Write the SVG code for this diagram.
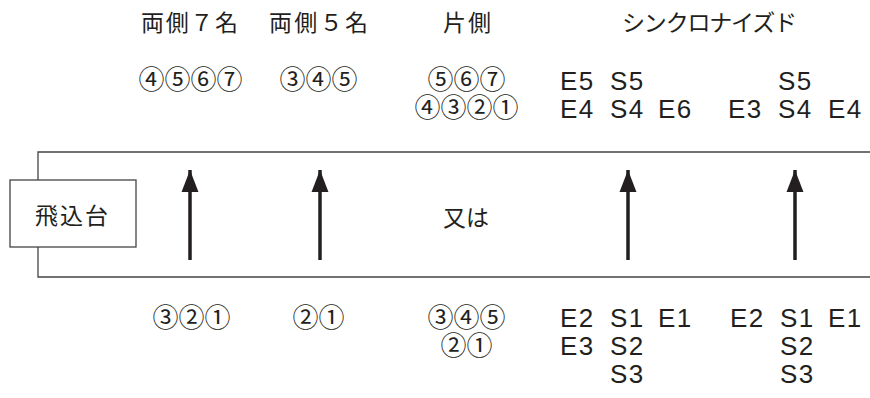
<svg xmlns="http://www.w3.org/2000/svg" width="870" height="398" viewBox="0 0 870 398">
<defs>
<marker id="ah" viewBox="0 0 13 10" refX="13" refY="5" markerWidth="6.3" markerHeight="4.9" markerUnits="strokeWidth" orient="auto">
<path d="M0,0 L13,5 L0,10 Z" fill="#231f20"/>
</marker>
<style>
.jp{font-family:"Noto Sans CJK JP","Noto Sans",sans-serif;fill:#231f20;font-size:23px}
.c{font-family:"Noto Sans CJK JP","DejaVu Sans",sans-serif;fill:#231f20;font-size:26px;text-anchor:middle}
.es{font-family:"Liberation Sans",Arial,sans-serif;fill:#231f20;font-size:26px;letter-spacing:1.5px}
.pool{fill:none;stroke:#444;stroke-width:1.3}
.arr{stroke:#231f20;stroke-width:3.5;fill:none;marker-end:url(#ah)}
</style>
</defs>
<rect width="870" height="398" fill="#fff"/>
<g id="pool">
<path class="pool" d="M870,152 H38 V180 M38,247 V277 H870"/>
</g>
<g id="platform">
<rect x="10" y="180" width="126" height="67" fill="#fff" stroke="#444" stroke-width="1.3"/>
<text class="jp" x="35" y="224" textLength="73">飛込台</text>
</g>
<g id="or"><text class="jp" x="443" y="226">又は</text></g>
<g id="connectors">
<line class="arr" x1="190" y1="260" x2="190" y2="170"/>
<line class="arr" x1="320" y1="260" x2="320" y2="170"/>
<line class="arr" x1="628" y1="260" x2="628" y2="170"/>
<line class="arr" x1="795" y1="260" x2="795" y2="170"/>
</g>
<g id="headers">
<text class="jp" x="141" y="31" textLength="97">両側７名</text>
<text class="jp" x="269" y="31" textLength="99">両側５名</text>
<text class="jp" x="443" y="31" textLength="48">片側</text>
<text class="jp" x="622" y="31" textLength="175">シンクロナイズド</text>
</g>
<g id="top-labels">
<text class="c" x="190.5" y="89">④⑤⑥⑦</text>
<text class="c" x="318.5" y="89">③④⑤</text>
<text class="c" x="466.5" y="89">⑤⑥⑦</text>
<text class="c" x="466.5" y="117">④③②①</text>
<text class="es" x="560" y="90">E5</text><text class="es" x="610" y="90">S5</text>
<text class="es" x="778" y="90">S5</text>
<text class="es" x="560" y="118">E4</text><text class="es" x="610" y="118">S4</text><text class="es" x="658" y="118">E6</text>
<text class="es" x="728" y="118">E3</text><text class="es" x="778" y="118">S4</text><text class="es" x="828" y="118">E4</text>
</g>
<g id="bottom-labels">
<text class="c" x="191.5" y="327">③②①</text>
<text class="c" x="318.5" y="327">②①</text>
<text class="c" x="466.5" y="327">③④⑤</text>
<text class="c" x="466.5" y="355">②①</text>
<text class="es" x="560" y="327">E2</text><text class="es" x="610" y="327">S1</text><text class="es" x="658" y="327">E1</text>
<text class="es" x="730" y="327">E2</text><text class="es" x="780" y="327">S1</text><text class="es" x="828" y="327">E1</text>
<text class="es" x="560" y="355">E3</text><text class="es" x="610" y="355">S2</text>
<text class="es" x="780" y="355">S2</text>
<text class="es" x="610" y="383">S3</text>
<text class="es" x="780" y="383">S3</text>
</g>
</svg>
